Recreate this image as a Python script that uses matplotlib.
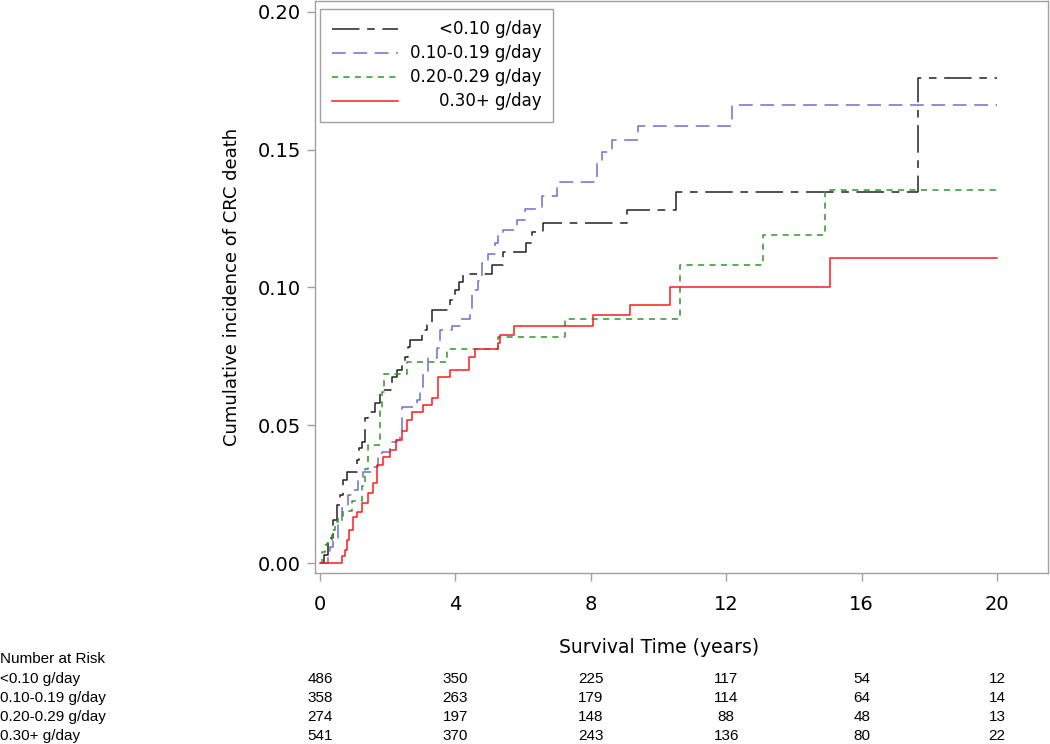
import matplotlib
matplotlib.use("Agg")
import matplotlib.pyplot as plt
import matplotlib.transforms as mtransforms

# cumulative incidence step curves (event time in years, value after the step)
t_lt010 = [0.12, 0.24, 0.38, 0.50, 0.59, 0.68, 0.80, 1.09, 1.15, 1.24, 1.33, 1.42,
           1.62, 1.77, 1.83, 2.13, 2.27, 2.42, 2.51, 2.60, 2.66, 3.01, 3.16, 3.31,
           3.84, 3.99, 4.10, 4.22, 5.08, 5.41, 6.09, 6.26, 6.59, 9.07, 10.52, 17.67]
ci_lt010 = [0.003, 0.009, 0.0155, 0.021, 0.0246, 0.030, 0.033, 0.0373, 0.0417, 0.044,
            0.0525, 0.0547, 0.058, 0.0616, 0.0627, 0.0674, 0.070, 0.0728, 0.0746,
            0.0783, 0.081, 0.0844, 0.0862, 0.0917, 0.0953, 0.0989, 0.1018, 0.1047,
            0.1083, 0.1127, 0.1163, 0.120, 0.1235, 0.128, 0.1348, 0.176]

t_010 = [0.24, 0.30, 0.38, 0.53, 0.65, 0.83, 0.97, 1.12, 1.27, 1.57, 1.71, 1.83,
         2.07, 2.27, 2.36, 2.42, 2.87, 2.95, 3.04, 3.19, 3.46, 3.55, 3.90, 4.14,
         4.43, 4.49, 4.67, 4.79, 4.96, 5.17, 5.26, 5.41, 5.82, 6.06, 6.56, 7.00,
         8.18, 8.33, 8.63, 9.39, 12.17]
ci_010 = [0.0036, 0.0058, 0.0091, 0.0145, 0.020, 0.0246, 0.0264, 0.030, 0.033,
          0.0348, 0.0391, 0.0402, 0.0438, 0.0446, 0.0482, 0.0565, 0.059, 0.064,
          0.0696, 0.0743, 0.0779, 0.0844, 0.0859, 0.0884, 0.0913, 0.0989, 0.1025,
          0.1087, 0.1123, 0.1163, 0.1196, 0.1207, 0.1243, 0.1283, 0.1333, 0.1384,
          0.1457, 0.149, 0.1536, 0.1587, 0.1663]

t_020 = [0.06, 0.15, 0.20, 0.35, 0.44, 0.53, 0.68, 0.95, 1.24, 1.33, 1.42, 1.77,
         1.83, 1.89, 2.57, 3.75, 5.26, 7.24, 10.63, 13.09, 14.92]
ci_020 = [0.004, 0.0065, 0.0072, 0.012, 0.0148, 0.017, 0.019, 0.0225, 0.028, 0.034,
          0.043, 0.055, 0.062, 0.0685, 0.0728, 0.0775, 0.0822, 0.0884, 0.108, 0.119,
          0.1355]

t_030 = [0.64, 0.74, 0.80, 0.86, 0.97, 1.09, 1.24, 1.42, 1.57, 1.68, 1.86, 2.07,
         2.25, 2.42, 2.57, 2.72, 3.04, 3.31, 3.49, 3.84, 4.40, 4.58, 5.26, 5.32,
         5.73, 8.07, 9.16, 10.34, 15.07]
ci_030 = [0.0025, 0.0047, 0.0083, 0.012, 0.0167, 0.0185, 0.0217, 0.0254, 0.029,
          0.0355, 0.0384, 0.041, 0.0446, 0.048, 0.052, 0.0547, 0.0572, 0.060, 0.0674,
          0.070, 0.0746, 0.0775, 0.080, 0.0826, 0.0859, 0.0899, 0.0938, 0.100, 0.1105]

t_end = 20.0

groups = ['<0.10 g/day', '0.10-0.19 g/day', '0.20-0.29 g/day', '0.30+ g/day']
risk_times = [0, 4, 8, 12, 16, 20]
risk_lt010 = [486, 350, 225, 117, 54, 12]
risk_010 = [358, 263, 179, 114, 64, 14]
risk_020 = [274, 197, 148, 88, 48, 13]
risk_030 = [541, 370, 243, 136, 80, 22]

curves = [(t_lt010, ci_lt010), (t_010, ci_010), (t_020, ci_020), (t_030, ci_030)]
risks = [risk_lt010, risk_010, risk_020, risk_030]
colors = ['#222222', '#6e6ed2', '#2e962e', '#ff1a1a']
styles = [(0, (18, 5, 5, 5)), (0, (9, 5)), (0, (4, 3.5)), '-']

fig = plt.figure(figsize=(10.5, 7.44), dpi=100)
ax = fig.add_axes([0.300, 0.2298, 0.698, 0.7692])

for (t, ci), lab, c, ls in zip(curves, groups, colors, styles):
    xs = [0.0] + list(t) + [t_end]
    ys = [0.0] + list(ci) + [ci[-1]]
    ax.step(xs, ys, where='post', color=c, linestyle=ls, linewidth=1.1, label=lab)

ax.set_xlim(-0.148, 21.5)
ax.set_ylim(-0.0036, 0.204)
ax.set_xticks(risk_times)
ax.set_yticks([0.0, 0.05, 0.10, 0.15, 0.20])
ax.set_yticklabels(['0.00', '0.05', '0.10', '0.15', '0.20'])

for s in ax.spines.values():
    s.set_color('#a0a0a0')
    s.set_linewidth(1.0)
ax.tick_params(axis='both', direction='out', color='#a0a0a0', length=6,
               labelsize=14, width=1.0)
ax.tick_params(axis='x', pad=10)
ax.tick_params(axis='y', pad=4)

ax.set_ylabel('Cumulative incidence of CRC death', fontsize=13)
ax.yaxis.set_label_coords(-0.101, 0.5)
ax.set_xlabel('Survival Time (years)', fontsize=13.5, va='center')
ax.xaxis.set_label_coords(0.47, -0.131)

leg = ax.legend(loc='upper left', bbox_to_anchor=(0.007, 0.986), borderaxespad=0,
                fontsize=12, handlelength=4.0, labelspacing=0.36, fancybox=False,
                framealpha=1, edgecolor='#a0a0a0', borderpad=0.7, handletextpad=0.7)
leg.get_frame().set_linewidth(1.0)
# right-align the legend labels
fig.canvas.draw()
r = fig.canvas.get_renderer()
widths = [tx.get_window_extent(r).width for tx in leg.get_texts()]
wmax = max(widths)
for tx, w in zip(leg.get_texts(), widths):
    tx.set_position((wmax - w, 0))

# number at risk table
tab_font = dict(fontsize=11, family=['Liberation Sans Narrow', 'Liberation Sans', 'DejaVu Sans'])
fig.text(0.0, 1 - 659 / 744, 'Number at Risk', va='center', ha='left', **tab_font)
trans = mtransforms.blended_transform_factory(ax.transData, fig.transFigure)
row_y = [679, 698, 717, 736]
for lab, vals, yp in zip(groups, risks, row_y):
    fy = 1 - yp / 744
    fig.text(0.0, fy, lab, va='center', ha='left', **tab_font)
    for tt, v in zip(risk_times, vals):
        ax.text(tt, fy, str(v), transform=trans, va='center', ha='center',
                clip_on=False, **tab_font)

fig.savefig('out.png', dpi=100)
